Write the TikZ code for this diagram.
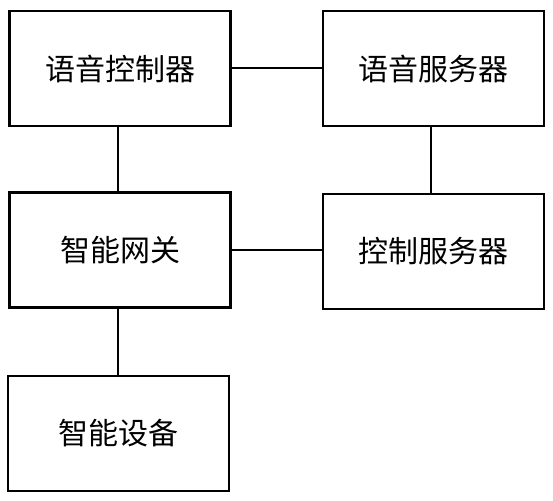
\documentclass[tikz,border=0pt]{standalone}
\usepackage{fontspec}
\newfontfamily\cjk{Noto Sans CJK SC}
\tikzset{
  blk/.style={draw, line width=2.2pt, minimum width=221pt, minimum height=115pt, inner sep=0pt, font=\cjk\fontsize{30}{33}\selectfont},
  conn/.style={line width=2pt}
}
\begin{document}
\begin{tikzpicture}[x=1pt,y=-1pt]
\useasboundingbox (0,0) rectangle (553,500);
\node[blk] (A) at (120,68.5) {语音控制器};
\node[blk] (B) at (433.5,68.5) {语音服务器};
\node[blk] (C) at (120,250) {智能网关};
\node[blk] (D) at (433.5,251.5) {控制服务器};
\node[blk] (E) at (118.5,433.5) {智能设备};
\draw[conn] (A.east) -- (B.west);
\draw[conn] ([xshift=-2pt]A.south) -- ([xshift=-2pt]A.south |- C.north);
\draw[conn] ([xshift=-3pt]B.south) -- ([xshift=-3pt]B.south |- D.north);
\draw[conn] (C.east) -- (C.east -| D.west);
\draw[conn] ([xshift=-2pt]C.south) -- ([xshift=-2pt]C.south |- E.north);
\end{tikzpicture}
\end{document}
